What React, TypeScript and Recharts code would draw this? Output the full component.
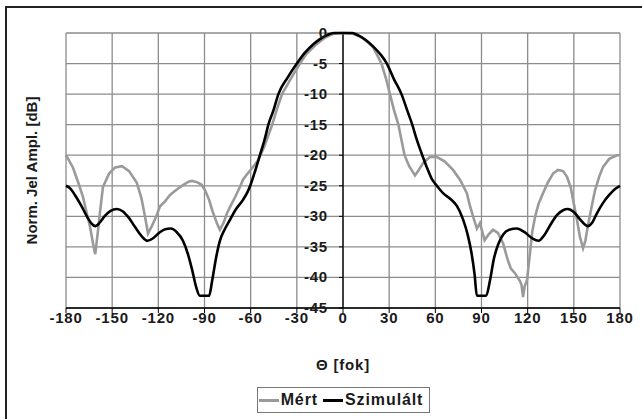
import {
  LineChart,
  Line,
  XAxis,
  YAxis,
  CartesianGrid,
  ReferenceLine,
} from 'recharts';

const FONT = '"Liberation Sans", Arial, sans-serif';
const GRAY = '#9a9a9a';
const BLACK = '#000000';
const GRID_STROKE = '#8c8c8c';
const TEXT_FILL = '#1a1a1a';

// plot box, in page pixels
const PLOT_LEFT = 66;
const PLOT_RIGHT = 620;
const PLOT_TOP = 33;
const PLOT_BOTTOM = 308;
const CENTER_X = (PLOT_LEFT + PLOT_RIGHT) / 2;
const Y_AXIS_W = 20;

const xTicks = [-180, -150, -120, -90, -60, -30, 0, 30, 60, 90, 120, 150, 180];
const yTicks = [0, -5, -10, -15, -20, -25, -30, -35, -40, -45];

const seriesNames = ['Mért', 'Szimulált'];

// measured pattern
const mertDeg = [
  -180, -175.5, -172, -169, -166.5, -164.4, -162, -161, -159.5, -158, -156, -152, -148, -143.6,
  -139, -134, -131, -128.7, -126.7, -124, -121, -119, -115.5, -112.4, -108, -104, -100, -98, -95,
  -92, -89.7, -87, -85, -82, -80, -77.5, -75.4, -72.5, -70, -67, -65, -62, -59, -55, -51, -46, -43,
  -39.6, -34, -28, -24, -18, -12, -6, 0, 6, 12, 16, 19.5, 22, 25, 28, 30.5, 33, 36, 38, 40, 43,
  46.8, 49, 52, 56.5, 61, 66, 71.5, 76, 80.5, 82.5, 84.5, 87, 89, 92, 94.5, 97.5, 100.7, 104, 107,
  109, 111.7, 113.5, 115, 116, 117, 118, 119.6, 121.5, 123, 124.8, 127, 129, 133, 136.5, 139.7,
  143, 145.5, 148, 149.5, 152, 154, 156, 157.5, 159, 161.5, 163.8, 166.5, 169, 173, 178, 180,
];
const mertDb = [
  -20, -22, -24.5, -26.8, -29.5, -31.7, -35, -36.2, -33, -29.5, -25.2, -23, -22, -21.8,
  -22.6, -24.5, -27, -30, -32.8, -31.5, -29.8, -28.4, -27.5, -26.5, -25.6, -24.9, -24.3, -24.2, -24.4,
  -24.8, -25.7, -27.3, -29, -31.1, -32.2, -31, -29.5, -28, -26.8, -25.2, -24, -23, -22.1, -20.8, -18.5, -15, -12.5,
  -10, -7.5, -5, -3.5, -2, -0.8, -0.1, 0, -0.1, -0.7, -1.5, -2.3, -3.5, -5, -7.5, -10, -12.5, -15, -17.5, -20, -21.8,
  -23.3, -22.5, -21.3, -20.3, -20.3, -21, -22.4, -24, -26.2, -28.3, -30, -32, -31.1, -33.9, -33, -32.2, -32.7, -34.4, -37.1,
  -38.5, -39.3, -40, -40.6, -41.2, -43.2, -41.5, -40.4, -36, -32.5, -30.1, -28, -26.8, -24.5, -23, -22.4,
  -22.6, -23.5, -25.3, -27.3, -30.5, -33.4, -35.2, -34, -31.7, -28.5, -25.7, -23.5, -21.9, -20.6, -20, -20,
];

// simulated pattern
const szimDeg = [
  -180, -177, -174, -170, -166, -163, -161, -158, -155, -151, -147, -143, -139, -135, -131, -127,
  -123, -119, -115.5, -112, -108, -104, -101, -98, -95.5, -93, -87, -85, -82.5, -80, -77, -73.5,
  -70, -65, -62, -60, -57, -54, -51, -48.5, -45, -42, -36, -30, -25, -20, -15, -10, -6, 0, 6, 10,
  15, 20, 25, 28.5, 33, 38, 41.5, 45, 48, 51.5, 55, 58, 61, 65, 70, 74, 78, 81, 83.5, 85.5, 87,
  93, 95.5, 98, 101, 104, 108, 113, 118, 123, 127, 131, 135, 139, 143, 146, 150, 154, 157, 159,
  162, 165, 169, 173, 177, 180,
];
const szimDb = [
  -25, -25.5, -26.6, -28.3, -30.2, -31.3, -31.6, -31, -30, -29.1, -28.8, -29.2, -30.3, -31.8, -33.2, -34,
  -33.5, -32.6, -32.1, -32, -32.6, -34, -36, -38.8, -41.5, -43, -43, -40.5, -36.8, -34, -32.2, -30.6,
  -29, -27.3, -26, -24.8, -22.5, -20, -17.5, -15, -12.5, -10, -7.3, -5, -3.3, -2, -1, -0.3, 0, 0, 0, -0.4,
  -1.2, -2.3, -3.7, -5, -7.5, -10, -12.5, -15, -17.5, -20, -22.3, -24, -25, -26.2, -27.2, -28.3, -30.5, -33, -36, -39.5, -43,
  -43, -40.5, -37, -34.5, -33, -32.2, -32, -32.6, -33.6, -34, -33, -31.3, -29.8, -29, -28.8, -29.3, -30.5, -31.3, -31.6,
  -31, -29.5, -27.8, -26.5, -25.5, -25,
];

const mertData = mertDeg.map((deg, i) => ({ deg, db: mertDb[i] }));
const szimData = szimDeg.map((deg, i) => ({ deg, db: szimDb[i] }));

interface TickProps {
  x?: number;
  y?: number;
  payload?: { value: number };
}

// y labels sit on the 0 degree line, not on the left edge
function YTick({ y, payload }: TickProps) {
  return (
    <g>
      <line x1={CENTER_X - 4} x2={CENTER_X} y1={y} y2={y} stroke={BLACK} />
      <text
        x={CENTER_X - 15}
        y={y}
        dy={5}
        textAnchor="end"
        fontFamily={FONT}
        fontWeight="bold"
        fontSize={15}
        letterSpacing={0.8}
        fill={TEXT_FILL}
      >
        {payload?.value}
      </text>
    </g>
  );
}

function XTick({ x, y, payload }: TickProps) {
  return (
    <text
      x={x}
      y={(y ?? 0) + 8}
      textAnchor="middle"
      fontFamily={FONT}
      fontWeight="bold"
      fontSize={15}
      letterSpacing={0.8}
      fill={TEXT_FILL}
    >
      {payload?.value}
    </text>
  );
}

function LegendBox() {
  const item = (name: string, color: string) => (
    <span style={{ display: 'inline-flex', alignItems: 'center', marginRight: 5 }}>
      <span style={{ display: 'inline-block', width: 20, height: 3, background: color, marginRight: 2 }} />
      {name}
    </span>
  );
  return (
    <div
      style={{
        position: 'absolute',
        left: 257,
        top: 387,
        width: 171,
        height: 24,
        border: '1px solid #777',
        display: 'flex',
        alignItems: 'center',
        justifyContent: 'center',
        fontFamily: FONT,
        fontWeight: 'bold',
        fontSize: 16,
        letterSpacing: 0.9,
        color: TEXT_FILL,
        background: '#fff',
        whiteSpace: 'nowrap',
      }}
    >
      {item(seriesNames[0], GRAY)}
      {item(seriesNames[1], BLACK)}
    </div>
  );
}

export default function App() {
  return (
    <div style={{ position: 'absolute', left: 0, top: 0, width: 642, height: 419, overflow: 'hidden', background: '#fff' }}>
      <div
        style={{
          position: 'absolute',
          left: 5,
          top: 6,
          width: 700,
          height: 500,
          borderLeft: '2px solid #222',
          borderTop: '2px solid #222',
        }}
      />
      <div style={{ position: 'absolute', left: 0, top: 0 }}>
        <LineChart
          width={642}
          height={419}
          margin={{ top: PLOT_TOP, right: 642 - PLOT_RIGHT, left: PLOT_LEFT - Y_AXIS_W, bottom: 419 - PLOT_BOTTOM - 30 }}
        >
          <CartesianGrid stroke={GRID_STROKE} strokeWidth={1.3} />
          <XAxis
            dataKey="deg"
            type="number"
            domain={[-180, 180]}
            ticks={xTicks}
            allowDuplicatedCategory={false}
            height={30}
            tickSize={5}
            tick={<XTick />}
            axisLine={{ stroke: BLACK, strokeWidth: 1.3 }}
            tickLine={{ stroke: BLACK }}
          />
          <YAxis
            type="number"
            domain={[-45, 0]}
            ticks={yTicks}
            width={Y_AXIS_W}
            axisLine={false}
            tickLine={false}
            tick={<YTick />}
          />
          <ReferenceLine x={0} stroke={BLACK} strokeWidth={1.3} />
          <Line
            data={mertData}
            dataKey="db"
            name={seriesNames[0]}
            type="linear"
            stroke={GRAY}
            strokeWidth={2.6}
            dot={false}
            isAnimationActive={false}
          />
          <Line
            data={szimData}
            dataKey="db"
            name={seriesNames[1]}
            type="monotone"
            stroke={BLACK}
            strokeWidth={2.6}
            dot={false}
            isAnimationActive={false}
          />
          <text
            x={CENTER_X}
            y={370}
            textAnchor="middle"
            fontFamily={FONT}
            fontWeight="bold"
            fontSize={15}
            letterSpacing={0.8}
            fill={TEXT_FILL}
          >
            Θ [fok]
          </text>
          <text
            x={37}
            y={(PLOT_TOP + PLOT_BOTTOM) / 2}
            transform={`rotate(-90 37 ${(PLOT_TOP + PLOT_BOTTOM) / 2})`}
            textAnchor="middle"
            fontFamily={FONT}
            fontWeight="bold"
            fontSize={15}
            fill={TEXT_FILL}
          >
            Norm. Jel Ampl. [dB]
          </text>
        </LineChart>
      </div>
      <LegendBox />
    </div>
  );
}
